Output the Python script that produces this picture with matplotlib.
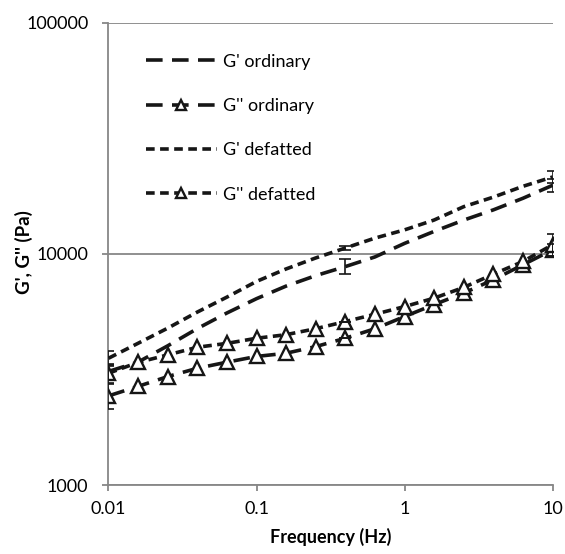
import matplotlib
matplotlib.use("Agg")
import matplotlib.pyplot as plt
import numpy as np

plt.rcParams['font.family'] = ['Lato', 'DejaVu Sans']

# frequency sweep, 5 points per decade
freq = [0.01, 0.0158, 0.0251, 0.0398, 0.0631, 0.1, 0.158, 0.251, 0.398,
        0.631, 1, 1.58, 2.51, 3.98, 6.31, 10]

g1_ord = [3100, 3400, 4000, 4750, 5550, 6400, 7250, 8050, 8810,
          9700, 11100, 12500, 14000, 15500, 17400, 19800]
g2_ord = [2430, 2670, 2945, 3200, 3400, 3600, 3715, 3970, 4315,
          4745, 5355, 6030, 6765, 7730, 8970, 10420]
g1_def = [3535, 4100, 4770, 5600, 6500, 7600, 8600, 9600, 10600,
          11700, 12700, 14000, 16000, 17600, 19600, 21500]
g2_def = [3045, 3390, 3655, 3945, 4100, 4315, 4470, 4745, 5095,
          5480, 5915, 6430, 7160, 8165, 9270, 10950]

# error bars only at a few points (index -> error)
err_idx = [0, 8, 15]
g1_ord_err = [250, 660, 1300]
g2_ord_err = [300, 0, 600]
g1_def_err = [250, 180, 1300]
g2_def_err = [270, 0, 1200]

labels = ["G' ordinary", "G'' ordinary", "G' defatted", "G'' defatted"]

long_dash = (0, (4.6, 2.6))
short_dash = (0, (2.4, 1.5))

fig = plt.figure(figsize=(5.65, 5.54), dpi=100)
ax = fig.add_axes([0.192, 0.1245, 0.786, 0.8345])

series = [
    (g1_ord, g1_ord_err, long_dash, None),
    (g2_ord, g2_ord_err, long_dash, '^'),
    (g1_def, g1_def_err, short_dash, None),
    (g2_def, g2_def_err, short_dash, '^'),
]

for (vals, errs, ls, mk), lab in zip(series, labels):
    ax.plot(freq, vals, color='#161616', lw=2.6, linestyle=ls,
            dash_capstyle='butt', marker=mk, markersize=10,
            markerfacecolor='white', markeredgecolor='#161616',
            markeredgewidth=1.7, label=lab, zorder=3)
    ex = [freq[i] for i in err_idx]
    ey = [vals[i] for i in err_idx]
    ax.errorbar(ex, ey, yerr=errs, fmt='none', ecolor='#161616',
                elinewidth=1.2, capsize=4.5, capthick=1.2, zorder=4)

ax.set_xscale('log')
ax.set_yscale('log')
ax.set_xlim(0.01, 10)
ax.set_ylim(1000, 100000)
ax.set_xticks([0.01, 0.1, 1, 10])
ax.set_xticklabels(['0.01', '0.1', '1', '10'])
ax.set_yticks([1000, 10000, 100000])
ax.set_yticklabels(['1000', '10000', '100000'])
ax.minorticks_off()

ax.grid(axis='y', color='#878787', lw=1.3)
ax.set_axisbelow(True)
for s in ['top', 'right']:
    ax.spines[s].set_visible(False)
for s in ['left', 'bottom']:
    ax.spines[s].set_color('#878787')
    ax.spines[s].set_linewidth(1.3)
ax.tick_params(direction='out', length=4.5, width=1.3, color='#878787',
               labelsize=13)
ax.tick_params(axis='y', pad=10)
ax.tick_params(axis='x', pad=7)

ax.set_xlabel('Frequency (Hz)', fontsize=13, fontweight='bold', labelpad=8)
ax.set_ylabel("G', G'' (Pa)", fontsize=13.5, fontweight='bold')
ax.yaxis.set_label_coords(-0.17, 0.503)

ax.legend(loc='upper left', bbox_to_anchor=(0.0845, 0.933), frameon=False,
          fontsize=13, handlelength=3.93, handletextpad=0.32, labelspacing=1.57,
          borderpad=0, borderaxespad=0, markerscale=0.75, numpoints=1)

fig.savefig('out.png', dpi=100)
